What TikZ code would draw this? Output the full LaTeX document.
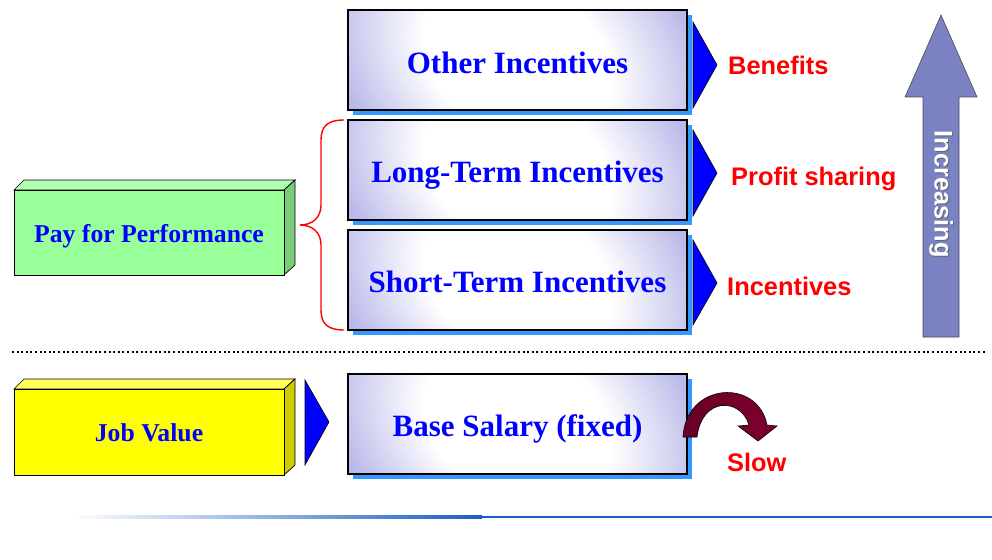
\documentclass[tikz,border=0pt]{standalone}
\usepackage{fontspec}
\setmainfont{Liberation Serif}
\newfontfamily\arialf{Liberation Sans}
\usetikzlibrary{calc}
\definecolor{lav}{RGB}{186,186,234}
\definecolor{shadowblue}{RGB}{51,153,255}
\definecolor{pureblue}{RGB}{0,0,255}
\definecolor{labred}{RGB}{255,0,0}
\definecolor{arrowblue}{RGB}{122,130,196}
\definecolor{greenfront}{RGB}{153,255,153}
\definecolor{greentop}{RGB}{178,255,178}
\definecolor{greenside}{RGB}{122,204,122}
\definecolor{yellowfront}{RGB}{255,255,0}
\definecolor{yellowtop}{RGB}{255,255,90}
\definecolor{yellowside}{RGB}{204,204,0}
\definecolor{darkred}{RGB}{128,0,48}
\definecolor{linkblue}{RGB}{25,95,195}
\pgfdeclareradialshading{incshade}{\pgfpoint{0bp}{0bp}}{color(0bp)=(white); color(20bp)=(white); color(40bp)=(lav); color(50bp)=(lav)}
\tikzset{
  incbox/.style={draw=black, line width=1.2pt, minimum width=339pt, minimum height=100pt,
    shading=incshade, shading angle=-30, inner sep=0pt},
  inctext/.style={font=\fontsize{31}{31}\selectfont\bfseries, text=pureblue, inner sep=0pt},
  redlabel/.style={font=\arialf\fontsize{25.4}{25.4}\selectfont\bfseries, text=labred, anchor=west, inner sep=0pt},
  pointer/.style={fill=pureblue, draw=black, line width=0.6pt},
  facefront/.style={draw=black, line width=0.7pt},
  boxtext/.style={font=\fontsize{25.7}{25.7}\selectfont\bfseries, text=pureblue, inner sep=0pt},
}
\begin{document}
\begin{tikzpicture}[x=1pt,y=-1pt]
\useasboundingbox (0,0) rectangle (992,559);
% shadows
\foreach \yy in {10,120,230,374}{
  \fill[shadowblue] (353,\yy+5) rectangle (692,\yy+105);
}
% incentive boxes
\node[incbox] (other) at (517.5,60) {};
\node[incbox] (long) at (517.5,170) {};
\node[incbox] (short) at (517.5,280) {};
\node[incbox] (base) at (517.5,424) {};
\node[inctext] (othert) at (517.5,63) {Other Incentives};
\node[inctext] (longt) at (517.5,175) {Long-Term Incentives};
\node[inctext] (shortt) at (517.5,282) {Short-Term Incentives};
\node[inctext] (baset) at (517.5,428.5) {Base Salary (fixed)};
% pointers
\draw[pointer] (693,22) -- (717,65) -- (693,108) -- cycle;
\draw[pointer] (693,130) -- (717,173) -- (693,216) -- cycle;
\draw[pointer] (693,240) -- (717,283) -- (693,325) -- cycle;
\draw[pointer] (305,380) -- (329,422) -- (305,465) -- cycle;
% red labels
\node[redlabel] (benefits) at (728,65.5) {Benefits};
\node[redlabel] (profit) at (731,178.5) {Profit sharing};
\node[redlabel] (incent) at (727,286) {Incentives};
\node[redlabel] (slow) at (727,462) {Slow};
% green 3D box
\fill[greentop, draw=black, line width=0.7pt] (14,190) -- (24,180) -- (295,180) -- (284,190) -- cycle;
\fill[greenside, draw=black, line width=0.7pt] (284,190) -- (295,180) -- (295,265) -- (284,275) -- cycle;
\draw[facefront, fill=greenfront] (14,190) rectangle (284,275);
\node[boxtext] (pay) at (149,236.5) {Pay for Performance};
% yellow 3D box
\fill[yellowtop, draw=black, line width=0.7pt] (14,389) -- (24,379) -- (295,379) -- (284,389) -- cycle;
\fill[yellowside, draw=black, line width=0.7pt] (284,389) -- (295,379) -- (295,465) -- (284,475) -- cycle;
\draw[facefront, fill=yellowfront] (14,389) rectangle (284,475);
\node[boxtext] (job) at (149,433) {Job Value};
% brace
\draw[labred, line width=1.4pt] (344,120) .. controls (328,120) and (321,126) .. (321,140)
  -- (321,205) .. controls (321,218) and (312,225) .. (300,225)
  .. controls (312,225) and (321,232) .. (321,245)
  -- (321,310) .. controls (321,324) and (328,330) .. (344,330);
% dotted separator
\coordinate (dl) at (12,352);
\coordinate (dr) at (985,352);
\draw[black, line width=2pt, dash pattern=on 2pt off 2.6pt] (dl) -- (dr);
% increasing arrow
\draw[fill=arrowblue, draw=black!70, line width=0.6pt] (923,337) -- (923,97) -- (905,97) -- (941,15) -- (977,97) -- (959,97) -- (959,337) -- cycle;
\node[rotate=-90, font=\arialf\fontsize{25.4}{25.4}\selectfont\bfseries, text=black!60, inner sep=0pt] at (942.2,195.2) {Increasing};
\node[rotate=-90, font=\arialf\fontsize{25.4}{25.4}\selectfont\bfseries, text=white, inner sep=0pt] (incr) at (941,194) {Increasing};
% slow curved arrow
\shade[left color=darkred!80!black, right color=darkred, draw=black, line width=0.6pt]
  (683,437) .. controls (686,382) and (758,378) .. (767,425)
  -- (777,426) -- (758,441) -- (738,426) -- (749,425)
  .. controls (741,398) and (702,396) .. (697,437) -- cycle;
% bottom line
\shade[left color=white, right color=linkblue] (70,515.5) rectangle (482,518.5);
\fill[linkblue] (482,516.3) rectangle (992,517.7);
\end{tikzpicture}
\end{document}
